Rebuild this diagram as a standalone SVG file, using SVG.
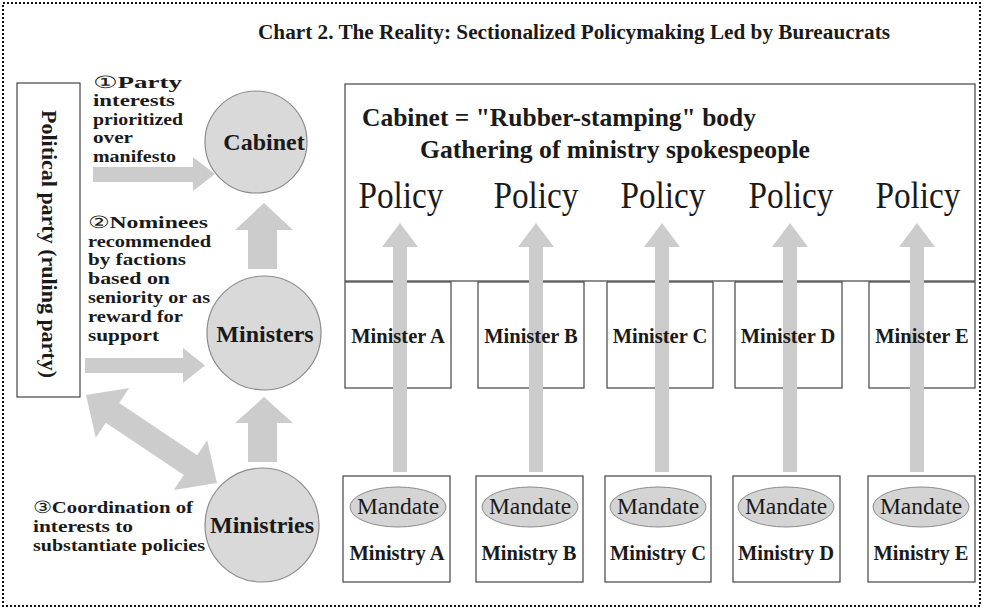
<svg xmlns="http://www.w3.org/2000/svg" width="985" height="610" viewBox="0 0 985 610">
<style>
.bx{fill:#fff;stroke:#444;stroke-width:1.2}
.circ{fill:#d9d9d9;stroke:#8c8c8c;stroke-width:1.2}
.ell{fill:#d4d4d4;stroke:#8c8c8c;stroke-width:1}
.arr{fill:#cccccc}
.b{font-family:"Liberation Serif","Times New Roman",serif;font-weight:bold;fill:#1a1a1a}
.r{font-family:"Liberation Serif","Times New Roman",serif;fill:#1a1a1a}
.num{font-weight:normal}
.lbl{font-size:16.5px}
.cl{font-size:24px;text-anchor:middle}
.mn{font-size:20.5px;text-anchor:middle}
.md{font-size:23.5px;text-anchor:middle}
.pol{font-size:38px;text-anchor:middle}
</style>
<rect x="0" y="0" width="985" height="610" fill="#fff"/>
<rect x="3" y="3" width="977" height="603" fill="none" stroke="#111" stroke-width="2" stroke-dasharray="2 2"/>
<text class="b" x="258" y="39" font-size="20" textLength="632" lengthAdjust="spacingAndGlyphs">Chart 2. The Reality: Sectionalized Policymaking Led by Bureaucrats</text>

<g id="party">
<rect class="bx" x="17" y="83" width="63" height="314"/>
<text class="b" transform="translate(42,244) rotate(90)" font-size="21" text-anchor="middle" textLength="268" lengthAdjust="spacingAndGlyphs">Political party (ruling party)</text>
</g>

<g id="cabinet-box">
<rect class="bx" x="345" y="84" width="630" height="197"/>
<text class="b" x="362" y="126" font-size="25" textLength="394" lengthAdjust="spacingAndGlyphs">Cabinet = "Rubber-stamping" body</text>
<text class="b" x="420" y="158" font-size="25" textLength="390" lengthAdjust="spacingAndGlyphs">Gathering of ministry spokespeople</text>
</g>

<g id="minister-boxes">
<rect class="bx" x="345" y="282" width="106" height="106"/>
<rect class="bx" x="478" y="282" width="106" height="106"/>
<rect class="bx" x="607" y="282" width="106" height="106"/>
<rect class="bx" x="735" y="282" width="107" height="106"/>
<rect class="bx" x="869" y="282" width="106" height="106"/>
</g>

<g id="ministry-boxes">
<rect class="bx" x="343" y="476" width="107" height="106"/>
<rect class="bx" x="476" y="476" width="107" height="106"/>
<rect class="bx" x="605" y="476" width="106" height="106"/>
<rect class="bx" x="733" y="476" width="107" height="106"/>
<rect class="bx" x="868" y="476" width="107" height="106"/>
</g>

<g id="connectors">
<polygon class="arr" points="93,167 193,167 193,157 215,174 193,191 193,182 93,182"/>
<polygon class="arr" points="85,358 183,358 183,348 205,365.5 183,383 183,373 85,373"/>
<polygon class="arr" points="248,269 248,230 235,230 264,203 293,230 277,230 277,269"/>
<polygon class="arr" points="248,462 248,423 235,423 264,397 293,423 277,423 277,462"/>
<polygon class="arr" points="86,395 129.2,387.9 119.2,402.9 197.2,455.3 207.2,440.3 217,483 173.8,490.1 183.8,475.1 105.8,422.7 95.8,437.7"/>
<polygon class="arr" points="393,472 393,247 382,247 400,223 418,247 407,247 407,472"/>
<polygon class="arr" points="529,472 529,247 518,247 536,223 554,247 543,247 543,472"/>
<polygon class="arr" points="655,472 655,247 644,247 662,223 680,247 669,247 669,472"/>
<polygon class="arr" points="783,472 783,247 772,247 790,223 808,247 797,247 797,472"/>
<polygon class="arr" points="910,472 910,247 899,247 917,223 935,247 924,247 924,472"/>
</g>

<g id="labels">
<text class="b lbl" x="93" y="88" textLength="89" lengthAdjust="spacingAndGlyphs"><tspan class="num">①</tspan>Party</text>
<text class="b lbl" x="93" y="106" textLength="82" lengthAdjust="spacingAndGlyphs">interests</text>
<text class="b lbl" x="93" y="125" textLength="90" lengthAdjust="spacingAndGlyphs">prioritized</text>
<text class="b lbl" x="93" y="143" textLength="40" lengthAdjust="spacingAndGlyphs">over</text>
<text class="b lbl" x="93" y="162" textLength="83" lengthAdjust="spacingAndGlyphs">manifesto</text>
<text class="b lbl" x="88" y="228" textLength="120" lengthAdjust="spacingAndGlyphs"><tspan class="num">②</tspan>Nominees</text>
<text class="b lbl" x="88" y="247" textLength="123" lengthAdjust="spacingAndGlyphs">recommended</text>
<text class="b lbl" x="88" y="265" textLength="98" lengthAdjust="spacingAndGlyphs">by factions</text>
<text class="b lbl" x="88" y="284" textLength="82" lengthAdjust="spacingAndGlyphs">based on</text>
<text class="b lbl" x="88" y="303" textLength="122" lengthAdjust="spacingAndGlyphs">seniority or as</text>
<text class="b lbl" x="88" y="322" textLength="95" lengthAdjust="spacingAndGlyphs">reward for</text>
<text class="b lbl" x="88" y="341" textLength="71" lengthAdjust="spacingAndGlyphs">support</text>
<text class="b lbl" x="33" y="513" textLength="160" lengthAdjust="spacingAndGlyphs"><tspan class="num">③</tspan>Coordination of</text>
<text class="b lbl" x="33" y="532" textLength="100" lengthAdjust="spacingAndGlyphs">interests to</text>
<text class="b lbl" x="33" y="551" textLength="172" lengthAdjust="spacingAndGlyphs">substantiate policies</text>
</g>

<g id="cabinet">
<circle class="circ" cx="256" cy="142" r="51"/>
<text class="b cl" x="264" y="150">Cabinet</text>
</g>
<g id="ministers">
<circle class="circ" cx="264" cy="333" r="57"/>
<text class="b cl" x="265" y="342">Ministers</text>
</g>
<g id="ministries">
<circle class="circ" cx="262" cy="525" r="57"/>
<text class="b cl" x="262" y="533">Ministries</text>
</g>

<g id="policies">
<text class="r pol" x="401" y="208" textLength="85" lengthAdjust="spacingAndGlyphs">Policy</text>
<text class="r pol" x="536" y="208" textLength="85" lengthAdjust="spacingAndGlyphs">Policy</text>
<text class="r pol" x="663" y="208" textLength="85" lengthAdjust="spacingAndGlyphs">Policy</text>
<text class="r pol" x="791" y="208" textLength="85" lengthAdjust="spacingAndGlyphs">Policy</text>
<text class="r pol" x="918" y="208" textLength="85" lengthAdjust="spacingAndGlyphs">Policy</text>
</g>

<g id="minister-a"><text class="b mn" x="398" y="343">Minister A</text></g>
<g id="minister-b"><text class="b mn" x="531" y="343">Minister B</text></g>
<g id="minister-c"><text class="b mn" x="660" y="343">Minister C</text></g>
<g id="minister-d"><text class="b mn" x="788" y="343">Minister D</text></g>
<g id="minister-e"><text class="b mn" x="922" y="343">Minister E</text></g>

<g id="ministry-a"><ellipse class="ell" cx="398" cy="507" rx="48" ry="20"/><text class="r md" x="398" y="514">Mandate</text><text class="b mn" x="397" y="560">Ministry A</text></g>
<g id="ministry-b"><ellipse class="ell" cx="530" cy="507" rx="48" ry="20"/><text class="r md" x="530" y="514">Mandate</text><text class="b mn" x="529" y="560">Ministry B</text></g>
<g id="ministry-c"><ellipse class="ell" cx="658" cy="507" rx="48" ry="20"/><text class="r md" x="658" y="514">Mandate</text><text class="b mn" x="658" y="560">Ministry C</text></g>
<g id="ministry-d"><ellipse class="ell" cx="786" cy="507" rx="48" ry="20"/><text class="r md" x="786" y="514">Mandate</text><text class="b mn" x="786" y="560">Ministry D</text></g>
<g id="ministry-e"><ellipse class="ell" cx="921" cy="507" rx="48" ry="20"/><text class="r md" x="921" y="514">Mandate</text><text class="b mn" x="921" y="560">Ministry E</text></g>
</svg>
